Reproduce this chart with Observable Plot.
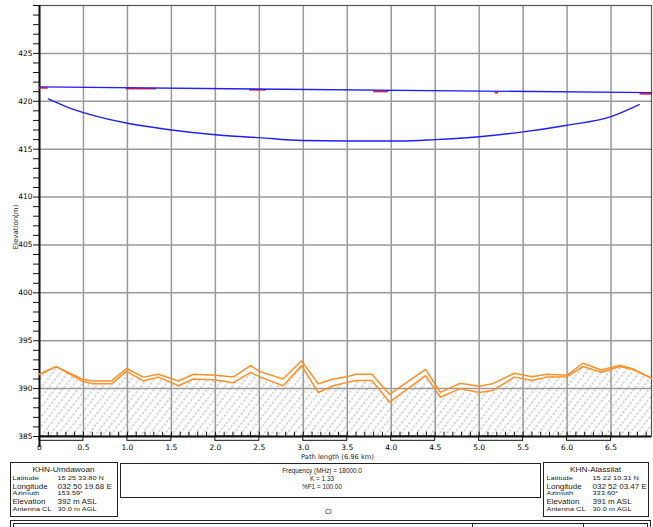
<!DOCTYPE html>
<html><head><meta charset="utf-8">
<script src="https://cdn.jsdelivr.net/npm/d3@7"></script>
<script src="https://cdn.jsdelivr.net/npm/@observablehq/plot@0.6"></script>
<style>
body{margin:0;background:#fff;font-family:"DejaVu Sans",sans-serif;}
#wrap{position:relative;width:653px;height:527px;overflow:hidden;background:#fff;}
#chart{position:absolute;left:0;top:0;}
.box{position:absolute;border:1.5px solid #222;box-sizing:border-box;color:#222;font-family:"Liberation Sans",Arial,sans-serif;}
.t{position:absolute;white-space:nowrap;line-height:1;font-family:"Liberation Sans",Arial,sans-serif;color:#222;transform-origin:0 50%;}
</style></head><body><div id="wrap"><div id="chart"></div></div>
<script>
// Terrain profile (km, m)
const distKm = [0, 0.19, 0.48, 0.6, 0.82, 0.99, 1.18, 1.35, 1.58, 1.75, 2.0, 2.2, 2.4, 2.5, 2.77, 2.98, 3.17, 3.34, 3.5, 3.6, 3.78, 3.98, 4.39, 4.56, 4.78, 5.0, 5.15, 5.4, 5.6, 5.77, 6.0, 6.18, 6.39, 6.6, 6.75, 6.96];
const terrainUpper = [391.5, 392.3, 391.0, 390.8, 390.8, 392.1, 391.2, 391.5, 390.8, 391.5, 391.4, 391.2, 392.4, 391.8, 391.0, 392.9, 390.5, 391.0, 391.25, 391.5, 391.5, 389.4, 392.0, 389.6, 390.55, 390.25, 390.5, 391.6, 391.25, 391.5, 391.4, 392.65, 391.95, 392.45, 392.05, 391.1];
const terrainLower = [391.5, 392.3, 390.8, 390.5, 390.5, 391.8, 390.8, 391.2, 390.3, 391.0, 390.9, 390.6, 391.7, 391.25, 390.3, 392.4, 389.6, 390.3, 390.65, 390.85, 390.85, 388.6, 391.35, 389.1, 390.0, 389.6, 389.8, 391.2, 390.85, 391.2, 391.25, 392.3, 391.7, 392.3, 392.0, 391.1];
// Fresnel zone lower edge
const fresnelKm = [0.1, 0.3, 0.58, 1.0, 1.5, 2.0, 2.5, 2.98, 3.5, 4.1, 4.5, 5.0, 5.5, 6.0, 6.5, 6.82];
const fresnelElev = [420.24, 419.45, 418.6, 417.7, 417.0, 416.5, 416.2, 415.9, 415.85, 415.85, 416.0, 416.3, 416.8, 417.5, 418.4, 419.65];
// Line of sight
const losKm = [0, 6.96];
const losElev = [421.5, 420.9];
// Red line-of-sight fragments
const redStart = [0, 0.985, 2.39, 3.8, 5.18, 6.83];
const redEnd = [0.1, 1.33, 2.58, 3.97, 5.22, 6.96];
const redElev = [421.5, 421.42, 421.3, 421.12, 421.0, 420.88];
// Axes
const yMajor = [385, 390, 395, 400, 405, 410, 415, 420, 425];
const yMinor = d3.range(385, 431, 1);
const xTicks = [0, 0.5, 1.0, 1.5, 2.0, 2.5, 3.0, 3.5, 4.0, 4.5, 5.0, 5.5, 6.0, 6.5];
const xTickLabels = ["0", "0.5", "1.0", "1.5", "2.0", "2.5", "3.0", "3.5", "4.0", "4.5", "5.0", "5.5", "6.0", "6.5"];
const xMinor = d3.range(0, 70, 1).map(i => i / 10);
const barStarts = [0, 1.0, 2.0, 3.0, 4.0, 5.0, 6.0];

const terrain = distKm.map((d, i) => ({d, up: terrainUpper[i], lo: terrainLower[i]}));
const fresnel = fresnelKm.map((d, i) => ({d, e: fresnelElev[i]}));
const los = losKm.map((d, i) => ({d, e: losElev[i]}));
const reds = redStart.map((s, i) => ({s, e: redEnd[i], y: redElev[i]}));

const orange = "#ff8f26";
const grid = "#9a9a9a";

const chart = Plot.plot({
  width: 653, height: 462,
  marginLeft: 39, marginRight: 2, marginTop: 5, marginBottom: 26,
  style: {fontFamily: "DejaVu Sans, sans-serif", background: "#fff", overflow: "visible"},
  x: {type: "linear", domain: [0, 6.96], axis: null},
  y: {type: "linear", domain: [385, 430], axis: null},
  marks: [
    Plot.areaY(terrain, {x: "d", y1: 385, y2: "lo", fill: "url(#hatch)"}),
    Plot.ruleY(yMajor.filter(v => v > 385), {stroke: grid, strokeWidth: 1.5}),
    Plot.ruleX(xTicks.filter(v => v > 0), {y1: 385, y2: 430, stroke: grid, strokeWidth: 1.5}),
    Plot.frame({stroke: "#555", strokeWidth: 1.2}),
    // scale bar
    Plot.rect(barStarts, {x1: d => d, x2: d => Math.min(d + 0.5, 6.96), y1: 384.55, y2: 385, fill: "#fff", stroke: "#111", strokeWidth: 1}),
    Plot.ruleX(xMinor, {y1: 385, y2: 385.45, stroke: "#111", strokeWidth: 1}),
    Plot.ruleY([385], {stroke: "#111", strokeWidth: 2}),
    Plot.ruleX([0], {y1: 383.85, y2: 430, stroke: "#111", strokeWidth: 2}),
    // y ticks (minor every metre, labels every 5)
    Plot.axisY({ticks: yMinor, tickSize: 6, tickPadding: 1, fontSize: 7.5, stroke: "#111",
      tickFormat: d => yMajor.includes(d) ? String(d) : "", label: null}),
    Plot.axisX({ticks: xTicks, tickSize: 0, tickPadding: 8, fontSize: 7.5, tickFormat: d => xTickLabels[xTicks.indexOf(d)], label: null}),
    Plot.text(["Path length (6.96 km)"], {frameAnchor: "bottom", dx: -8, dy: 22, fontSize: 6.7, fill: "#222"}),
    Plot.text(["Elevation(m)"], {frameAnchor: "left", textAnchor: "middle", rotate: -90, dx: -24, dy: 6, fontSize: 7, fill: "#222"}),
    // terrain lines
    Plot.lineY(terrain, {x: "d", y: "lo", stroke: orange, strokeWidth: 1.5}),
    Plot.lineY(terrain, {x: "d", y: "up", stroke: orange, strokeWidth: 1.5}),
    // red fragments + line of sight
    Plot.ruleY(reds, {x1: "s", x2: "e", y: "y", dy: 1, stroke: "#ff1a1a", strokeWidth: 1.6}),
    Plot.lineY(los, {x: "d", y: "e", stroke: "#1f1fff", strokeWidth: 1.4}),
    Plot.lineY(fresnel, {x: "d", y: "e", stroke: "#1f1fff", strokeWidth: 1.4, curve: "monotone-x"})
  ]
});

// hatch pattern
const ns = "http://www.w3.org/2000/svg";
const defs = document.createElementNS(ns, "defs");
defs.innerHTML = '<pattern id="hatch" patternUnits="userSpaceOnUse" width="6" height="8" patternTransform="rotate(38)"><line x1="1" y1="0" x2="1" y2="8" stroke="#8a8a8a" stroke-width="0.7" stroke-dasharray="2.6 1.4"/></pattern>';
chart.insertBefore(defs, chart.firstChild);
document.getElementById("chart").appendChild(chart);

// info boxes
const wrap = document.getElementById("wrap");
function box(l, t, w, h, extra) {
  const b = document.createElement("div");
  b.className = "box";
  Object.assign(b.style, {left: l + "px", top: t + "px", width: w + "px", height: h + "px"}, extra || {});
  wrap.appendChild(b);
  return b;
}
function txt(parent, s, l, t, size, anchor, sy) {
  const e = document.createElement("div");
  e.className = "t";
  e.textContent = s;
  e.style.fontSize = size + "px";
  e.style.top = t + "px";
  e.style.left = l + "px";
  const tr = [];
  if (anchor === "middle") tr.push("translateX(-50%)");
  if (sy) tr.push("scaleY(" + sy + ")");
  if (tr.length) e.style.transform = tr.join(" ");
  parent.appendChild(e);
  return e;
}
const siteA = ["KHN-Umdawoan", "15 25 33.80 N", "032 50 19.68 E", "153.59°", "392 m ASL", "30.0 m AGL"];
const siteB = ["KHN-Alassilat", "15 22 10.31 N", "032 52 03.47 E", "333.60°", "391 m ASL", "30.0 m AGL"];
const rowLabels = ["Latitude", "Longitude", "Azimuth", "Elevation", "Antenna CL"];
const rowSizes = [7.4, 8, 7.4, 8, 7.4];
const rowScale = [0.72, 1, 0.72, 1, 0.72];
const rowTops = [11.8, 19.5, 26.8, 34.5, 42.8];
function site(l, w, vals, labX, valX) {
  const b = box(l, 462, w, 55);
  txt(b, vals[0], w / 2 - 1.5, 2.6, 8.3, "middle", 0.82);
  rowLabels.forEach((r, i) => {
    txt(b, r, labX, rowTops[i], rowSizes[i], null, rowScale[i]);
    txt(b, vals[i + 1], valX, rowTops[i], rowSizes[i], null, rowScale[i]);
  });
}
site(10, 108, siteA, 1.5, 46.5);
site(543, 106, siteB, 2.5, 48.5);
const mid = box(120, 463, 421, 35);
const midLines = ["Frequency (MHz) = 18000.0", "K = 1.33", "%F1 = 100.00"];
midLines.forEach((s, i) => txt(mid, s, 201, 3.5 + i * 8, 6.4, "middle"));
txt(wrap, "Cl", 325, 508, 7);
box(10, 520, 641, 20);
box(13, 523, 635, 20);
box(472, 523, 1, 10, {border: "none", borderLeft: "1.5px solid #222"});
box(583, 523, 1, 10, {border: "none", borderLeft: "1.5px solid #222"});
</script></body></html>
